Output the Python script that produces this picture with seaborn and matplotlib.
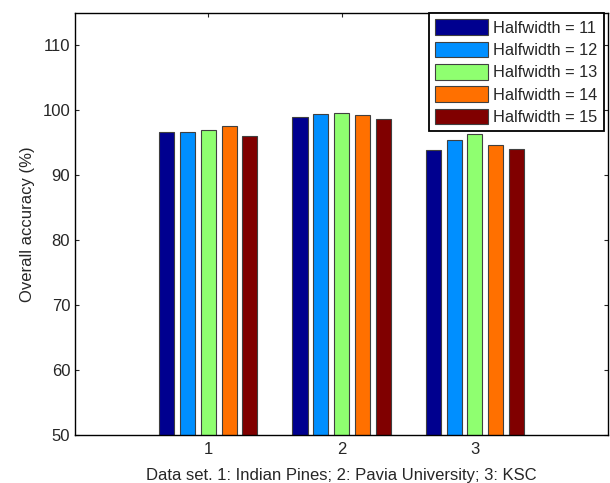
import pandas as pd
import numpy as np
import matplotlib.pyplot as plt
import seaborn as sns

# Values
datasets = ['1', '2', '3']
halfwidths = ['Halfwidth = 11', 'Halfwidth = 12', 'Halfwidth = 13', 'Halfwidth = 14', 'Halfwidth = 15']
acc_hw11 = [96.6, 98.9, 93.9]
acc_hw12 = [96.6, 99.4, 95.5]
acc_hw13 = [96.9, 99.6, 96.3]
acc_hw14 = [97.6, 99.3, 94.7]
acc_hw15 = [96.0, 98.6, 94.0]

colors = ['#00008f', '#008fff', '#8fff70', '#ff7000', '#800000']

# Long format table for seaborn
rows = []
for name, vals in zip(halfwidths, [acc_hw11, acc_hw12, acc_hw13, acc_hw14, acc_hw15]):
    for ds, v in zip(datasets, vals):
        rows.append({'dataset': ds, 'halfwidth': name, 'accuracy': v})
df = pd.DataFrame(rows)

sns.set_style('ticks')
plt.rcParams['font.family'] = ['Liberation Sans', 'DejaVu Sans']
plt.rcParams['xtick.direction'] = 'in'
plt.rcParams['ytick.direction'] = 'in'

fig, ax = plt.subplots(figsize=(6.1, 4.83), dpi=100)
sns.barplot(data=df, x='dataset', y='accuracy', hue='halfwidth', order=datasets,
            hue_order=halfwidths, palette=colors, saturation=1, width=0.78, gap=0.27,
            edgecolor='#404040', linewidth=0.8, ax=ax)

ax.set_xlim(-1, 3)
ax.set_ylim(50, 115)
ax.set_yticks([50, 60, 70, 80, 90, 100, 110])
ax.set_xlabel('Data set. 1: Indian Pines; 2: Pavia University; 3: KSC', fontsize=12, labelpad=8)
ax.set_ylabel('Overall accuracy (%)', fontsize=12, labelpad=5)
ax.tick_params(labelsize=12, top=True, right=True, length=3, width=0.8)
ax.tick_params(axis='x', pad=5)
for s in ax.spines.values():
    s.set_linewidth(1.0)
    s.set_color('black')

leg = ax.legend(loc='upper right', bbox_to_anchor=(0.992, 1.0), fontsize=11.8,
                fancybox=False, framealpha=1, edgecolor='black', borderaxespad=0,
                handlelength=3.2, handleheight=1.1, labelspacing=0.36, borderpad=0.38,
                handletextpad=0.35)
leg.get_frame().set_linewidth(1.3)

plt.subplots_adjust(left=0.123, right=0.997, top=0.973, bottom=0.1)
plt.savefig('out.png', dpi=100)
